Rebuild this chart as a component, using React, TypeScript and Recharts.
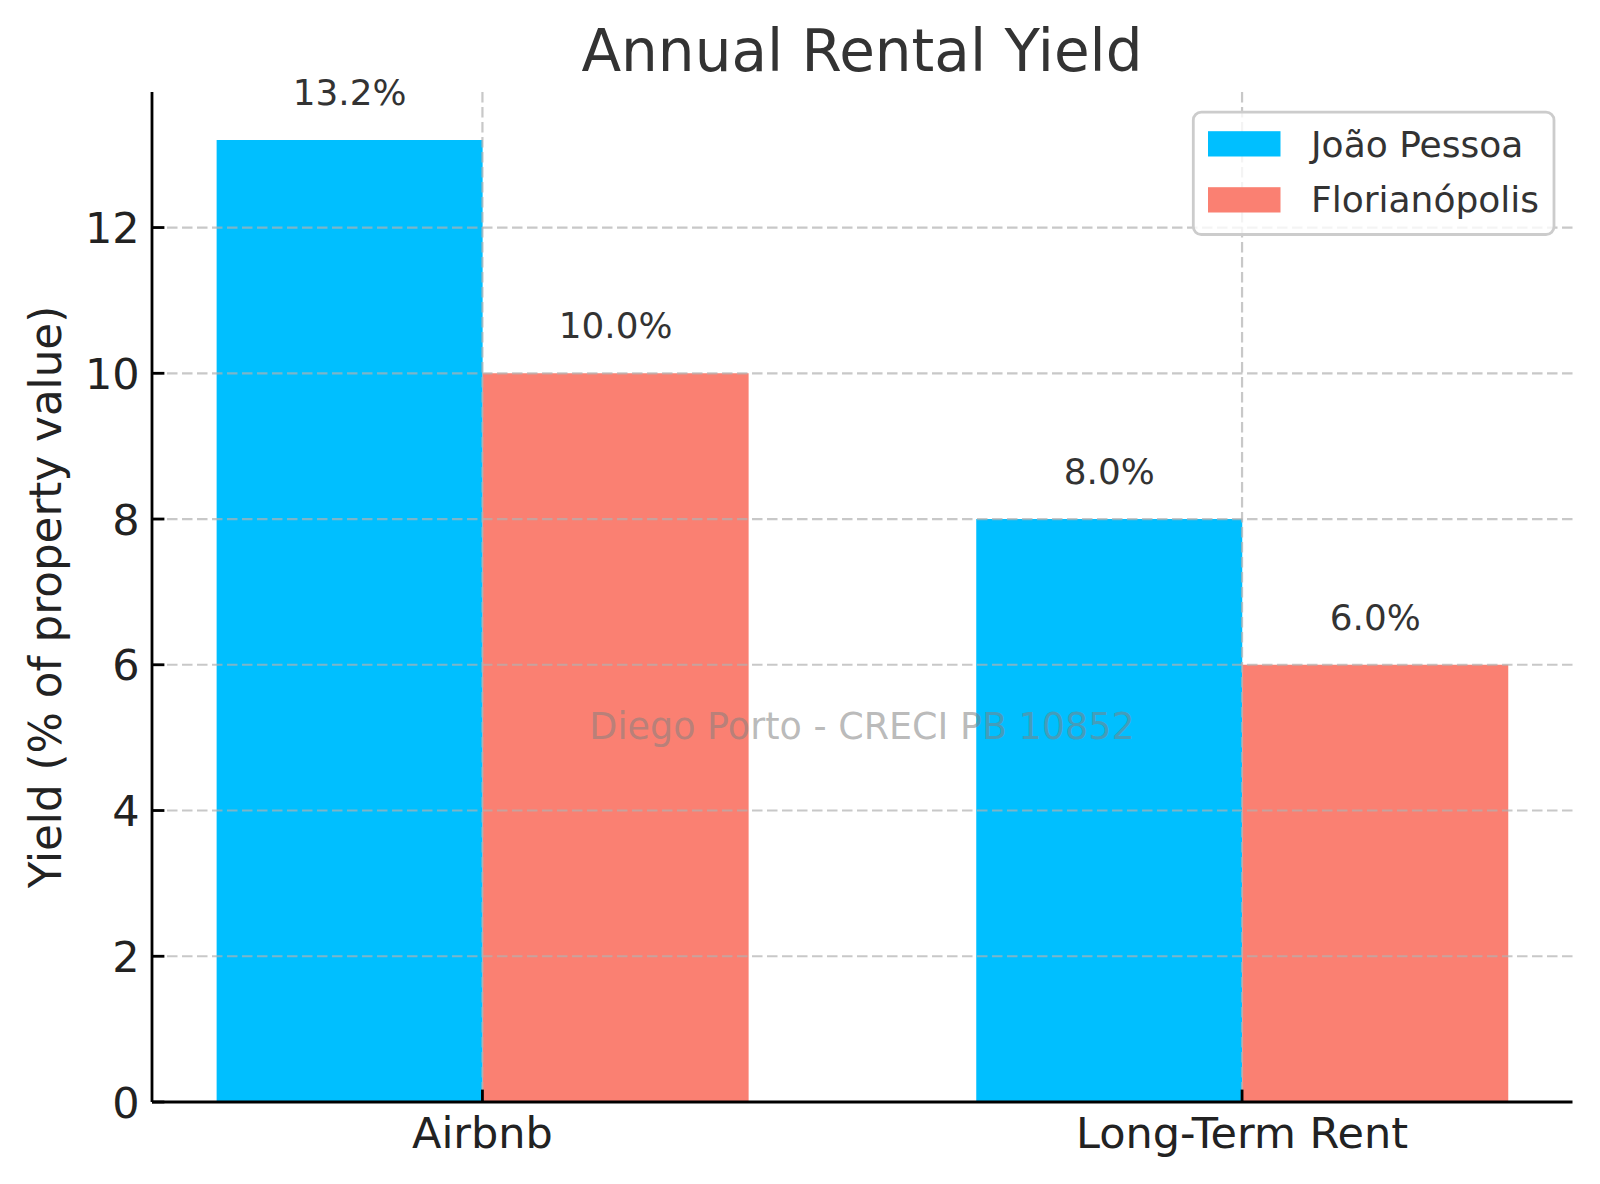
import React from 'react';
import { BarChart, Bar, XAxis, YAxis, CartesianGrid, LabelList, Legend } from 'recharts';

const categories = ['Airbnb', 'Long-Term Rent'];
const joaoPessoa = [13.2, 8.0];
const florianopolis = [10.0, 6.0];
const seriesNames = ['João Pessoa', 'Florianópolis'];
const seriesColors = ['#00BFFF', '#FA8072'];
const yTicks = [0, 2, 4, 6, 8, 10, 12];
const gridY = [2, 4, 6, 8, 10, 12];
const xTicks = [0, 1];
const chartTitle = 'Annual Rental Yield';
const yAxisLabel = 'Yield (% of property value)';
const watermarkText = 'Diego Porto - CRECI PB 10852';

const data = categories.map((c, i) => ({ x: i, name: c, jp: joaoPessoa[i], fl: florianopolis[i] }));

const FONT = '"DejaVu Sans", sans-serif';
const W = 1584;
const H = 1168;
const PLOT_RIGHT = 1564.5;
const PLOT_LEFT = 144;
const PLOT_TOP = 84;
const PLOT_BOTTOM = 1094;

const TICK_LEN = 12.4;
const SPINE_W = 2.8;

const YTick = (props: any) => {
  const { x, y, payload } = props;
  return (
    <g>
      <line x1={x} x2={x + TICK_LEN} y1={y} y2={y} stroke="#000" strokeWidth={SPINE_W} />
      <text x={x - 12.4} y={y} dy={15.5} textAnchor="end" fontSize={43} fill="#222" fontFamily={FONT}>
        {payload.value}
      </text>
    </g>
  );
};

const XTick = (props: any) => {
  const { x, y, payload } = props;
  return (
    <g>
      <line x1={x} x2={x} y1={y} y2={y - TICK_LEN} stroke="#000" strokeWidth={SPINE_W} />
      <text x={x} y={y + 46} textAnchor="middle" fontSize={43} fill="#222" fontFamily={FONT}>
        {categories[payload.value]}
      </text>
    </g>
  );
};

const ValueLabel = (props: any) => {
  const { x, y, width, value } = props;
  return (
    <text x={x + width / 2} y={y - 35} textAnchor="middle" fontSize={35.8} fill="#333" fontFamily={FONT}>
      {`${Number(value).toFixed(1)}%`}
    </text>
  );
};

const LegendBox = (props: any) => {
  const payload = [...(props.payload || [])].sort(
    (a: any, b: any) => seriesNames.indexOf(a.value) - seriesNames.indexOf(b.value)
  );
  return (
    <svg width={366} height={128} style={{ display: 'block' }}>
      <rect x={2.3} y={2.2} width={360.7} height={122.3} rx={8} fill="#fff" fillOpacity={0.8} stroke="#cccccc" strokeWidth={2.8} />
      {payload.map((p: any, i: number) => (
        <g key={i}>
          <rect x={17} y={21.2 + i * 56} width={72.5} height={25.3} fill={p.color} />
          <text x={120} y={46.5 + i * 55.5} fontSize={36} fill="#333" fontFamily={FONT}>
            {p.value}
          </text>
        </g>
      ))}
    </svg>
  );
};

export default function App() {
  return (
    <div style={{ position: 'relative', width: W, height: H }}>
      <BarChart
        width={W}
        height={H}
        data={data}
        margin={{ top: PLOT_TOP, right: W - PLOT_RIGHT, bottom: 0, left: 0 }}
        barGap={0}
      >
        <XAxis
          type="number"
          dataKey="x"
          domain={[-0.435, 1.435]}
          allowDataOverflow
          ticks={xTicks}
          tickCount={2}
          interval={0}
          height={H - PLOT_BOTTOM}
          tickSize={0}
          tickMargin={0}
          tickLine={false}
          tick={<XTick />}
          axisLine={{ stroke: '#000', strokeWidth: SPINE_W }}
        />
        <YAxis
          type="number"
          domain={[0, 13.86]}
          allowDataOverflow
          ticks={yTicks}
          interval={0}
          width={PLOT_LEFT}
          tickSize={0}
          tickMargin={0}
          tickLine={false}
          tick={<YTick />}
          axisLine={{ stroke: '#000', strokeWidth: SPINE_W }}
        />
        <Bar dataKey="jp" name={seriesNames[0]} fill={seriesColors[0]} barSize={266} isAnimationActive={false}>
          <LabelList dataKey="jp" content={<ValueLabel />} />
        </Bar>
        <Bar dataKey="fl" name={seriesNames[1]} fill={seriesColors[1]} barSize={266} isAnimationActive={false}>
          <LabelList dataKey="fl" content={<ValueLabel />} />
        </Bar>
        <CartesianGrid
          horizontalValues={gridY}
          verticalValues={xTicks}
          stroke="#b0b0b0"
          strokeOpacity={0.7}
          strokeWidth={2.2}
          strokeDasharray="10.5 4.5"
          {...({ zIndex: 400 } as any)}
        />
        <Legend
          layout="vertical"
          align="center"
          verticalAlign="middle"
          content={<LegendBox />}
          wrapperStyle={{ position: 'absolute', left: 1183, top: 101.5, width: 366, height: 128 }}
        />
        <text x={854} y={62.5} textAnchor="middle" fontSize={58} fill="#333" fontFamily={FONT}>
          {chartTitle}
        </text>
        <text
          x={53}
          y={589}
          transform="rotate(-90, 53, 589)"
          textAnchor="middle"
          fontSize={43.6}
          fill="#222"
          fontFamily={FONT}
        >
          {yAxisLabel}
        </text>
      </BarChart>
      <svg
        width={W}
        height={H}
        style={{ position: 'absolute', left: 0, top: 0, pointerEvents: 'none' }}
      >
        <text x={854} y={731} textAnchor="middle" fontSize={36.5} fill="#808080" fillOpacity={0.55} fontFamily={FONT}>
          {watermarkText}
        </text>
      </svg>
    </div>
  );
}
